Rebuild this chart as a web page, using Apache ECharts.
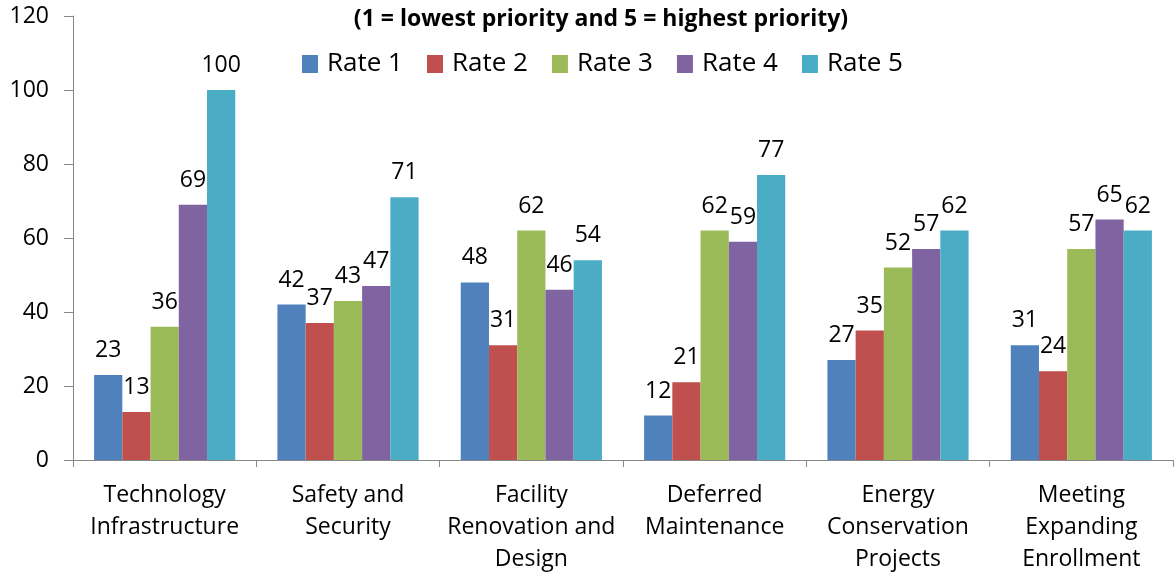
<!DOCTYPE html>
<html>
<head>
<meta charset="utf-8">
<script src="https://cdn.jsdelivr.net/npm/echarts@6/dist/echarts.min.js"></script>
<style>
  html, body { margin: 0; padding: 0; background: #fff; }
  #chart { width: 1175px; height: 577px; }
</style>
</head>
<body>
<div id="chart"></div>
<script>
const categories = [
  "Technology\nInfrastructure",
  "Safety and\nSecurity",
  "Facility\nRenovation and\nDesign",
  "Deferred\nMaintenance",
  "Energy\nConservation\nProjects",
  "Meeting\nExpanding\nEnrollment"
];
const seriesNames = ["Rate 1", "Rate 2", "Rate 3", "Rate 4", "Rate 5"];
const rate1 = [23, 42, 48, 12, 27, 31];
const rate2 = [13, 37, 31, 21, 35, 24];
const rate3 = [36, 43, 62, 62, 52, 57];
const rate4 = [69, 47, 46, 59, 57, 65];
const rate5 = [100, 71, 54, 77, 62, 62];
const yTicks = [0, 20, 40, 60, 80, 100, 120];

const colors = ["#4F81BD", "#C0504D", "#9BBB59", "#8064A2", "#4BACC6"];
const fontFamily = "'Open Sans', Lato, sans-serif";
const seriesData = [rate1, rate2, rate3, rate4, rate5];

const chart = echarts.init(document.getElementById("chart"));
const option = {
  animation: false,
  color: colors,
  textStyle: { fontFamily: fontFamily },
  title: {
    text: "(1 = lowest priority and 5 = highest priority)",
    left: 596,
    textAlign: "center",
    top: 3,
    textStyle: { fontSize: 23, fontWeight: "bold", color: "#000", fontFamily: fontFamily }
  },
  legend: {
    data: seriesNames,
    left: 297,
    top: 46,
    itemWidth: 16,
    itemHeight: 18,
    itemGap: 24,
    icon: "rect",
    textStyle: { fontSize: 26, color: "#000", fontFamily: fontFamily, padding: [0, 0, 0, 4] }
  },
  grid: { left: 73, right: 2, top: 16, bottom: 117, containLabel: false },
  xAxis: {
    type: "category",
    data: categories,
    axisLine: { lineStyle: { color: "#888" } },
    axisTick: { show: true, length: 7, lineStyle: { color: "#888" }, alignWithLabel: false },
    axisLabel: {
      fontSize: 23,
      color: "#000",
      lineHeight: 32,
      margin: 19,
      interval: 0,
      fontFamily: fontFamily
    }
  },
  yAxis: {
    type: "value",
    min: yTicks[0],
    max: yTicks[yTicks.length - 1],
    interval: 20,
    splitLine: { show: false },
    axisLine: { show: true, lineStyle: { color: "#888" } },
    axisTick: { show: true, length: 9, lineStyle: { color: "#888" } },
    axisLabel: { fontSize: 23, color: "#000", margin: 24, fontFamily: fontFamily }
  },
  series: seriesNames.map(function (name, i) {
    return {
      name: name,
      type: "bar",
      data: seriesData[i],
      barGap: "0%",
      barCategoryGap: "23%",
      label: {
        show: true,
        position: "top",
        distance: 13,
        fontSize: 23,
        color: "#000",
        fontFamily: fontFamily
      }
    };
  })
};
chart.setOption(option);
</script>
</body>
</html>
